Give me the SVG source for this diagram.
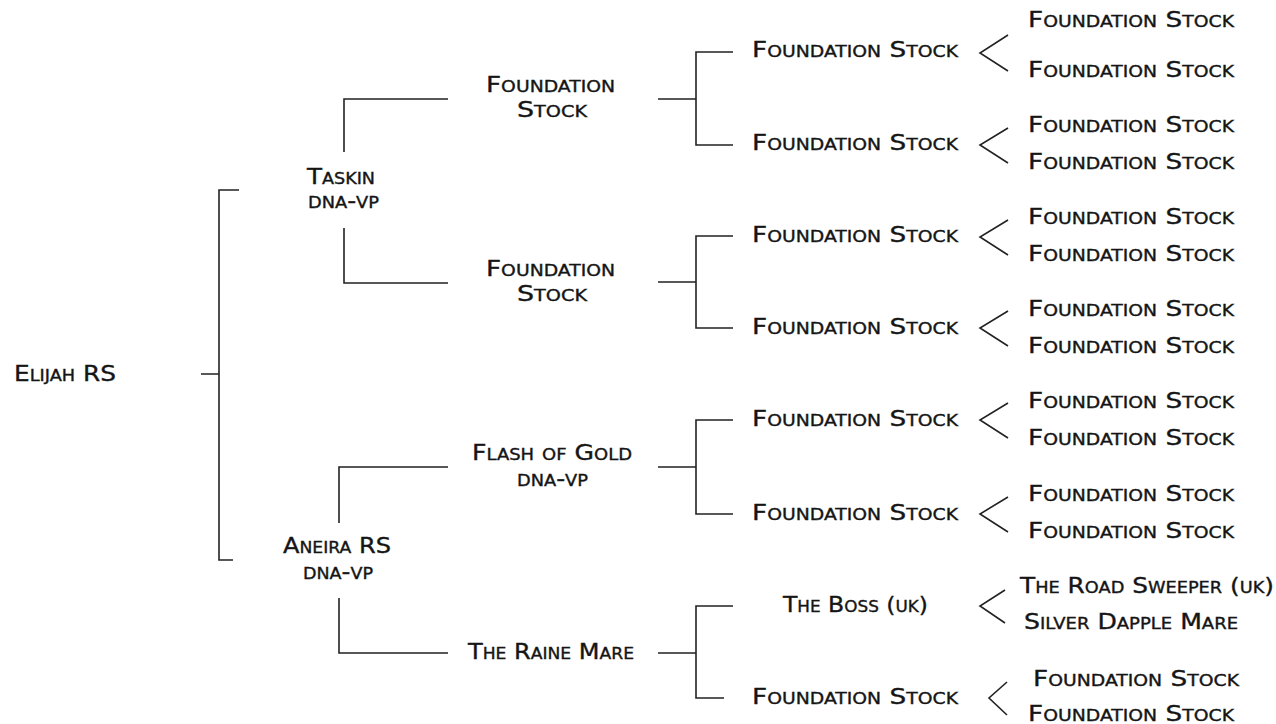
<svg xmlns="http://www.w3.org/2000/svg" width="1276" height="724" viewBox="0 0 1276 724">
<style>
.t{font-family:"DejaVu Sans","Liberation Sans",sans-serif;font-size:21px;font-variant:small-caps;fill:#151515;stroke:#151515;stroke-width:0.35}
.c{fill:none;stroke:#222;stroke-width:1.6}
</style>
<rect width="1276" height="724" fill="#fff"/>
<g id="connectors" class="c">
<path d="M201 374H219M239 190H219V560H233"/>
<path d="M448 99H344V152M344 228V283H448"/>
<path d="M448 467H339V523M339 598V653H448"/>
<path d="M658 99H696M733 52H696V145H733"/>
<path d="M658 282H696M733 236H696V328H733"/>
<path d="M658 467H696M733 420H696V514H733"/>
<path d="M658 653H696M733 606H696V698H724"/>
<path d="M1008 35L980 53L1008 71"/>
<path d="M1008 128L980 145L1008 163"/>
<path d="M1008 220L980 237L1008 255"/>
<path d="M1008 311L980 328L1008 346"/>
<path d="M1008 403L980 420L1008 438"/>
<path d="M1008 497L980 514L1008 532"/>
<path d="M1005 590L980 606L1005 623"/>
<path d="M1007 682L989 698L1007 715"/>
</g>
<g id="n-elijah"><text class="t" x="14" y="381" textLength="102" lengthAdjust="spacingAndGlyphs">Elijah RS</text></g>
<g id="n-taskin"><text class="t" x="307" y="184" textLength="68" lengthAdjust="spacingAndGlyphs">Taskin</text><text class="t" x="308" y="208" textLength="71" lengthAdjust="spacingAndGlyphs">dna-vp</text></g>
<g id="n-aneira"><text class="t" x="283" y="553" textLength="108" lengthAdjust="spacingAndGlyphs">Aneira RS</text><text class="t" x="303" y="579" textLength="70" lengthAdjust="spacingAndGlyphs">dna-vp</text></g>
<g id="n-g2a"><text class="t" x="486" y="92" textLength="129" lengthAdjust="spacingAndGlyphs">Foundation</text><text class="t" x="517" y="117" textLength="70" lengthAdjust="spacingAndGlyphs">Stock</text></g>
<g id="n-g2b"><text class="t" x="486" y="276" textLength="129" lengthAdjust="spacingAndGlyphs">Foundation</text><text class="t" x="517" y="301" textLength="70" lengthAdjust="spacingAndGlyphs">Stock</text></g>
<g id="n-flash"><text class="t" x="472" y="460" textLength="160" lengthAdjust="spacingAndGlyphs">Flash of Gold</text><text class="t" x="517" y="486" textLength="71" lengthAdjust="spacingAndGlyphs">dna-vp</text></g>
<g id="n-raine"><text class="t" x="468" y="659" textLength="166" lengthAdjust="spacingAndGlyphs">The Raine Mare</text></g>
<g id="n-g3a"><text class="t" x="752" y="57" textLength="206" lengthAdjust="spacingAndGlyphs">Foundation Stock</text></g>
<g id="n-g3b"><text class="t" x="752" y="150" textLength="206" lengthAdjust="spacingAndGlyphs">Foundation Stock</text></g>
<g id="n-g3c"><text class="t" x="752" y="242" textLength="206" lengthAdjust="spacingAndGlyphs">Foundation Stock</text></g>
<g id="n-g3d"><text class="t" x="752" y="334" textLength="206" lengthAdjust="spacingAndGlyphs">Foundation Stock</text></g>
<g id="n-g3e"><text class="t" x="752" y="426" textLength="206" lengthAdjust="spacingAndGlyphs">Foundation Stock</text></g>
<g id="n-g3f"><text class="t" x="752" y="520" textLength="206" lengthAdjust="spacingAndGlyphs">Foundation Stock</text></g>
<g id="n-boss"><text class="t" x="783" y="612" textLength="145" lengthAdjust="spacingAndGlyphs">The Boss (uk)</text></g>
<g id="n-g3h"><text class="t" x="752" y="704" textLength="206" lengthAdjust="spacingAndGlyphs">Foundation Stock</text></g>
<g id="n-g4-1"><text class="t" x="1028" y="27" textLength="206" lengthAdjust="spacingAndGlyphs">Foundation Stock</text></g>
<g id="n-g4-2"><text class="t" x="1028" y="77" textLength="206" lengthAdjust="spacingAndGlyphs">Foundation Stock</text></g>
<g id="n-g4-3"><text class="t" x="1028" y="132" textLength="206" lengthAdjust="spacingAndGlyphs">Foundation Stock</text></g>
<g id="n-g4-4"><text class="t" x="1028" y="169" textLength="206" lengthAdjust="spacingAndGlyphs">Foundation Stock</text></g>
<g id="n-g4-5"><text class="t" x="1028" y="224" textLength="206" lengthAdjust="spacingAndGlyphs">Foundation Stock</text></g>
<g id="n-g4-6"><text class="t" x="1028" y="261" textLength="206" lengthAdjust="spacingAndGlyphs">Foundation Stock</text></g>
<g id="n-g4-7"><text class="t" x="1028" y="316" textLength="206" lengthAdjust="spacingAndGlyphs">Foundation Stock</text></g>
<g id="n-g4-8"><text class="t" x="1028" y="353" textLength="206" lengthAdjust="spacingAndGlyphs">Foundation Stock</text></g>
<g id="n-g4-9"><text class="t" x="1028" y="408" textLength="206" lengthAdjust="spacingAndGlyphs">Foundation Stock</text></g>
<g id="n-g4-10"><text class="t" x="1028" y="445" textLength="206" lengthAdjust="spacingAndGlyphs">Foundation Stock</text></g>
<g id="n-g4-11"><text class="t" x="1028" y="501" textLength="206" lengthAdjust="spacingAndGlyphs">Foundation Stock</text></g>
<g id="n-g4-12"><text class="t" x="1028" y="538" textLength="206" lengthAdjust="spacingAndGlyphs">Foundation Stock</text></g>
<g id="n-road"><text class="t" x="1020" y="593" textLength="254" lengthAdjust="spacingAndGlyphs">The Road Sweeper (uk)</text></g>
<g id="n-silver"><text class="t" x="1024" y="629" textLength="214" lengthAdjust="spacingAndGlyphs">Silver Dapple Mare</text></g>
<g id="n-g4-15"><text class="t" x="1033" y="686" textLength="206" lengthAdjust="spacingAndGlyphs">Foundation Stock</text></g>
<g id="n-g4-16"><text class="t" x="1028" y="721" textLength="206" lengthAdjust="spacingAndGlyphs">Foundation Stock</text></g>
</svg>
